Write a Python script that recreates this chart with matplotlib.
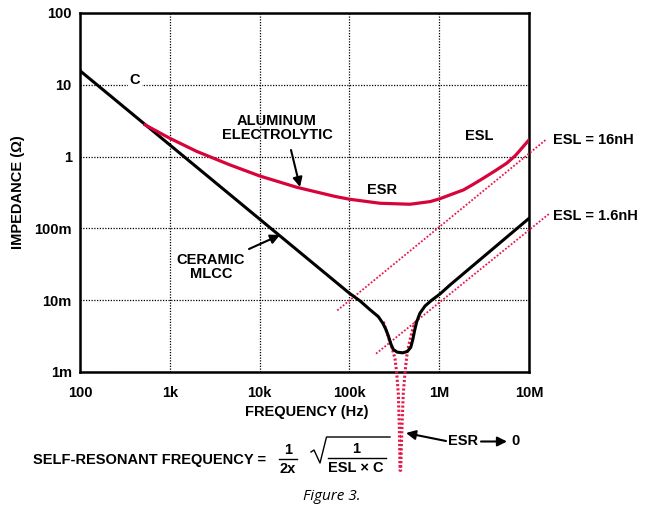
import matplotlib
matplotlib.use("Agg")
import matplotlib.pyplot as plt
from matplotlib.lines import Line2D

plt.rcParams["font.family"] = ["Liberation Sans", "DejaVu Sans"]
plt.rcParams["font.weight"] = "bold"

# axes ticks
x_ticks = [1e2, 1e3, 1e4, 1e5, 1e6, 1e7]
x_labels = ["100", "1k", "10k", "100k", "1M", "10M"]
y_ticks = [1e-3, 1e-2, 1e-1, 1, 10, 100]
y_labels = ["1m", "10m", "100m", "1", "10", "100"]

# ceramic MLCC impedance (Hz, ohm)
mlcc_f = [1e2, 1.0e5, 1.31e5, 1.69e5, 2.1e5, 2.35e5, 2.53e5,
          2.71e5, 2.88e5, 3.08e5, 3.41e5, 3.92e5, 4.41e5, 4.82e5, 5.07e5,
          5.33e5, 5.61e5, 6.11e5, 6.95e5, 8.25e5, 1.02e6, 1.32e6, 1e7]
mlcc_z = [15.7, 0.0125, 0.0098, 0.0074, 0.0059, 0.0048, 0.0040,
          0.0032, 0.0025, 0.00206, 0.00189, 0.00185, 0.00193, 0.0022, 0.0028,
          0.0038, 0.0050, 0.0066, 0.0083, 0.0100, 0.0122, 0.0163, 0.138]

# aluminum electrolytic
alu_f = [530, 1e3, 2e3, 4.68e3, 1e4, 2.59e4, 6.9e4, 1e5, 2.19e5, 4.73e5,
         7.9e5, 1e6, 1.38e6, 1.86e6, 2.4e6, 3.1e6, 4.18e6, 5.65e6, 6.98e6,
         7.6e6, 1e7]
alu_z = [2.77, 1.8, 1.18, 0.766, 0.538, 0.374, 0.279, 0.255, 0.224, 0.217,
         0.236, 0.257, 0.299, 0.343, 0.412, 0.50, 0.632, 0.81, 1.02,
         1.15, 1.71]

# ESL asymptotes
esl16_f = [7.33e4, 1.57e7]
esl16_z = [0.0072, 1.75]
esl1p6_f = [1.98e5, 1.71e7]
esl1p6_z = [0.0018, 0.163]

# ideal resonance with ESR -> 0
res_f = [2.39e5, 2.71e5, 2.96e5, 3.22e5, 3.36e5, 3.506e5, 3.595e5, 3.66e5,
         3.725e5, 3.85e5, 3.98e5, 4.16e5, 4.41e5, 4.73e5, 5.15e5, 5.61e5]
res_z = [0.0050, 0.0031, 0.00224, 0.00154, 0.00098, 0.00050, 0.000171, 0.0000427,
         0.0000427, 0.000171, 0.00050, 0.00098, 0.00191, 0.00278, 0.00426, 0.00528]

RED = "#d6043a"
PINK = "#e8194a"
FS = 10.5

fig = plt.figure(figsize=(6.47, 5.16), dpi=100)
ax = fig.add_axes([80 / 647, 1 - 372 / 516, 449 / 647, 359 / 516])
ax.set_xscale("log")
ax.set_yscale("log")
ax.set_xlim(1e2, 1e7)
ax.set_ylim(1e-3, 1e2)
ax.set_xticks(x_ticks)
ax.set_xticklabels(x_labels)
ax.set_yticks(y_ticks)
ax.set_yticklabels(y_labels)
ax.minorticks_off()
ax.tick_params(length=0, labelsize=FS)
ax.tick_params(axis="x", pad=10)
ax.tick_params(axis="y", pad=6)
ax.grid(True, which="major", color="k", ls=(0, (1, 1.2)), lw=0.9)
for s in ax.spines.values():
    s.set_linewidth(1.8)

ax.plot(esl16_f, esl16_z, color=PINK, ls=(0, (1, 1)), lw=1.3, clip_on=False, zorder=3)
ax.plot(esl1p6_f, esl1p6_z, color=PINK, ls=(0, (1, 1)), lw=1.3, clip_on=False, zorder=3)
ax.plot(res_f, res_z, color=PINK, ls=(0, (0.7, 0.7)), lw=2.2, clip_on=False, zorder=3)
ax.plot(mlcc_f, mlcc_z, color="k", lw=2.2, zorder=4, solid_joinstyle="round")
ax.plot(alu_f, alu_z, color=RED, lw=2.3, zorder=4, solid_joinstyle="round")

# overlay in pixel coords for labels
ov = fig.add_axes([0, 0, 1, 1], facecolor="none")
ov.set_xlim(0, 647)
ov.set_ylim(516, 0)
ov.axis("off")

def t(x, y, s, **kw):
    kw.setdefault("ha", "center")
    kw.setdefault("va", "center")
    kw.setdefault("fontsize", FS)
    ov.text(x, y, s, **kw)

arr = dict(arrowstyle="-|>", color="k", lw=1.5, mutation_scale=14, shrinkA=0, shrinkB=0)

t(135, 80, "C", bbox=dict(facecolor="white", edgecolor="none", pad=1.5))
t(277, 128, "ALUMINUM\nELECTROLYTIC", linespacing=0.95)
ov.annotate("", xy=(300, 187), xytext=(291, 150), arrowprops=arr)
t(382, 190, "ESR")
t(479, 136, "ESL")
t(553, 140, "ESL = 16nH", ha="left")
t(553, 216, "ESL = 1.6nH", ha="left")
t(211, 267, "CERAMIC\nMLCC", linespacing=0.95)
ov.annotate("", xy=(280, 235), xytext=(249, 249), arrowprops=arr)

t(307, 412, "FREQUENCY (Hz)")
t(18, 192, "IMPEDANCE (Ω)", rotation=90)

t(33, 460, "SELF-RESONANT FREQUENCY =", ha="left")
t(288, 450, "1")
ov.add_line(Line2D([279, 297], [459, 459], color="k", lw=1.0))
t(288, 469, "2x")
ov.add_line(Line2D([311, 314, 320, 326.5, 390], [452, 450, 463, 437, 437], color="k", lw=1.0))
t(356, 449, "1")
ov.add_line(Line2D([328, 386], [458, 458], color="k", lw=1.0))
t(356, 468, "ESL × C")

t(463, 441, "ESR")
ov.annotate("", xy=(406, 433), xytext=(446, 441), arrowprops=arr)
ov.annotate("", xy=(507, 441.5), xytext=(481, 441.5), arrowprops=arr)
t(515, 441, "0")

t(332, 497, "Figure 3.", fontsize=11, fontweight="normal", style="italic",
  family=["Open Sans", "DejaVu Sans"])

fig.savefig("out.png", dpi=100)
